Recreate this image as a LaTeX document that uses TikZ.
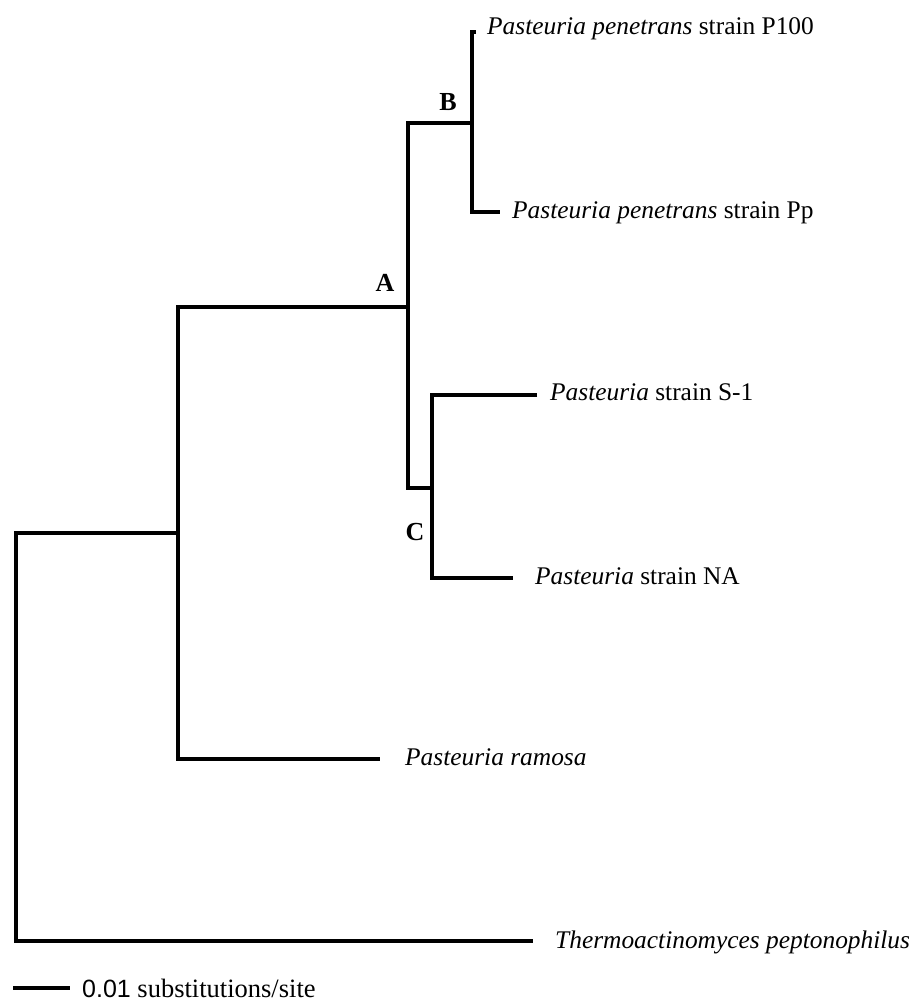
\documentclass[tikz,border=0pt]{standalone}
\usepackage{fontspec}
\setmainfont{Liberation Serif}
\newfontfamily\scalefont{Liberation Sans}
\begin{document}
\begin{tikzpicture}[x=1pt,y=-1pt,
  branch/.style={line width=3.8pt, line join=miter},
  taxon/.style={anchor=base west, inner sep=0pt, font=\fontsize{25.4}{29}\selectfont},
  clade/.style={inner sep=0pt, font=\fontsize{26}{30}\selectfont\bfseries},
  scaletext/.style={anchor=base west, inner sep=0pt, font=\fontsize{26.5}{30}\selectfont}]
\useasboundingbox (0,0) rectangle (912,1003);

% internal nodes
\coordinate (root) at (16,736);
\coordinate (n1) at (178,533);
\coordinate (nA) at (408,307);
\coordinate (nB) at (472,123);
\coordinate (nC) at (432,488);

% branch tips
\coordinate (tP100) at (476,32);
\coordinate (tPp) at (500,212);
\coordinate (tS1) at (537,395);
\coordinate (tNA) at (513,578);
\coordinate (tRamosa) at (380,759);
\coordinate (tThermo) at (533,941);

% branches
\draw[branch] (n1) -| (root) |- (tThermo);
\draw[branch] (nA) -| (n1) |- (tRamosa);
\draw[branch] (nB) -| (nA) |- (nC);
\draw[branch] (tP100) -| (nB) |- (tPp);
\draw[branch] (tS1) -| (nC) |- (tNA);

% taxon names
\node[taxon] (lP100) at (487,35) {\textit{Pasteuria penetrans} strain P100};
\node[taxon] (lPp) at (512,218) {\textit{Pasteuria penetrans} strain Pp};
\node[taxon] (lS1) at (550,400) {\textit{Pasteuria} strain S-1};
\node[taxon] (lNA) at (535,584) {\textit{Pasteuria} strain NA};
\node[taxon] (lRamosa) at (405,765) {\textit{Pasteuria ramosa}};
\node[taxon] (lThermo) at (555,948) {\textit{Thermoactinomyces peptonophilus}};

% clade labels
\node[clade] (cA) at (385,283) {A};
\node[clade] (cB) at (448,102) {B};
\node[clade] (cC) at (415,532) {C};

% scale bar
\coordinate (s0) at (13,988);
\coordinate (s1) at (70,988);
\draw[branch] (s0) -- (s1);
\node[scaletext] (lScale) at (82,997) {{\scalefont\fontsize{25}{29}\selectfont 0.01} substitutions/site};
\end{tikzpicture}
\end{document}
